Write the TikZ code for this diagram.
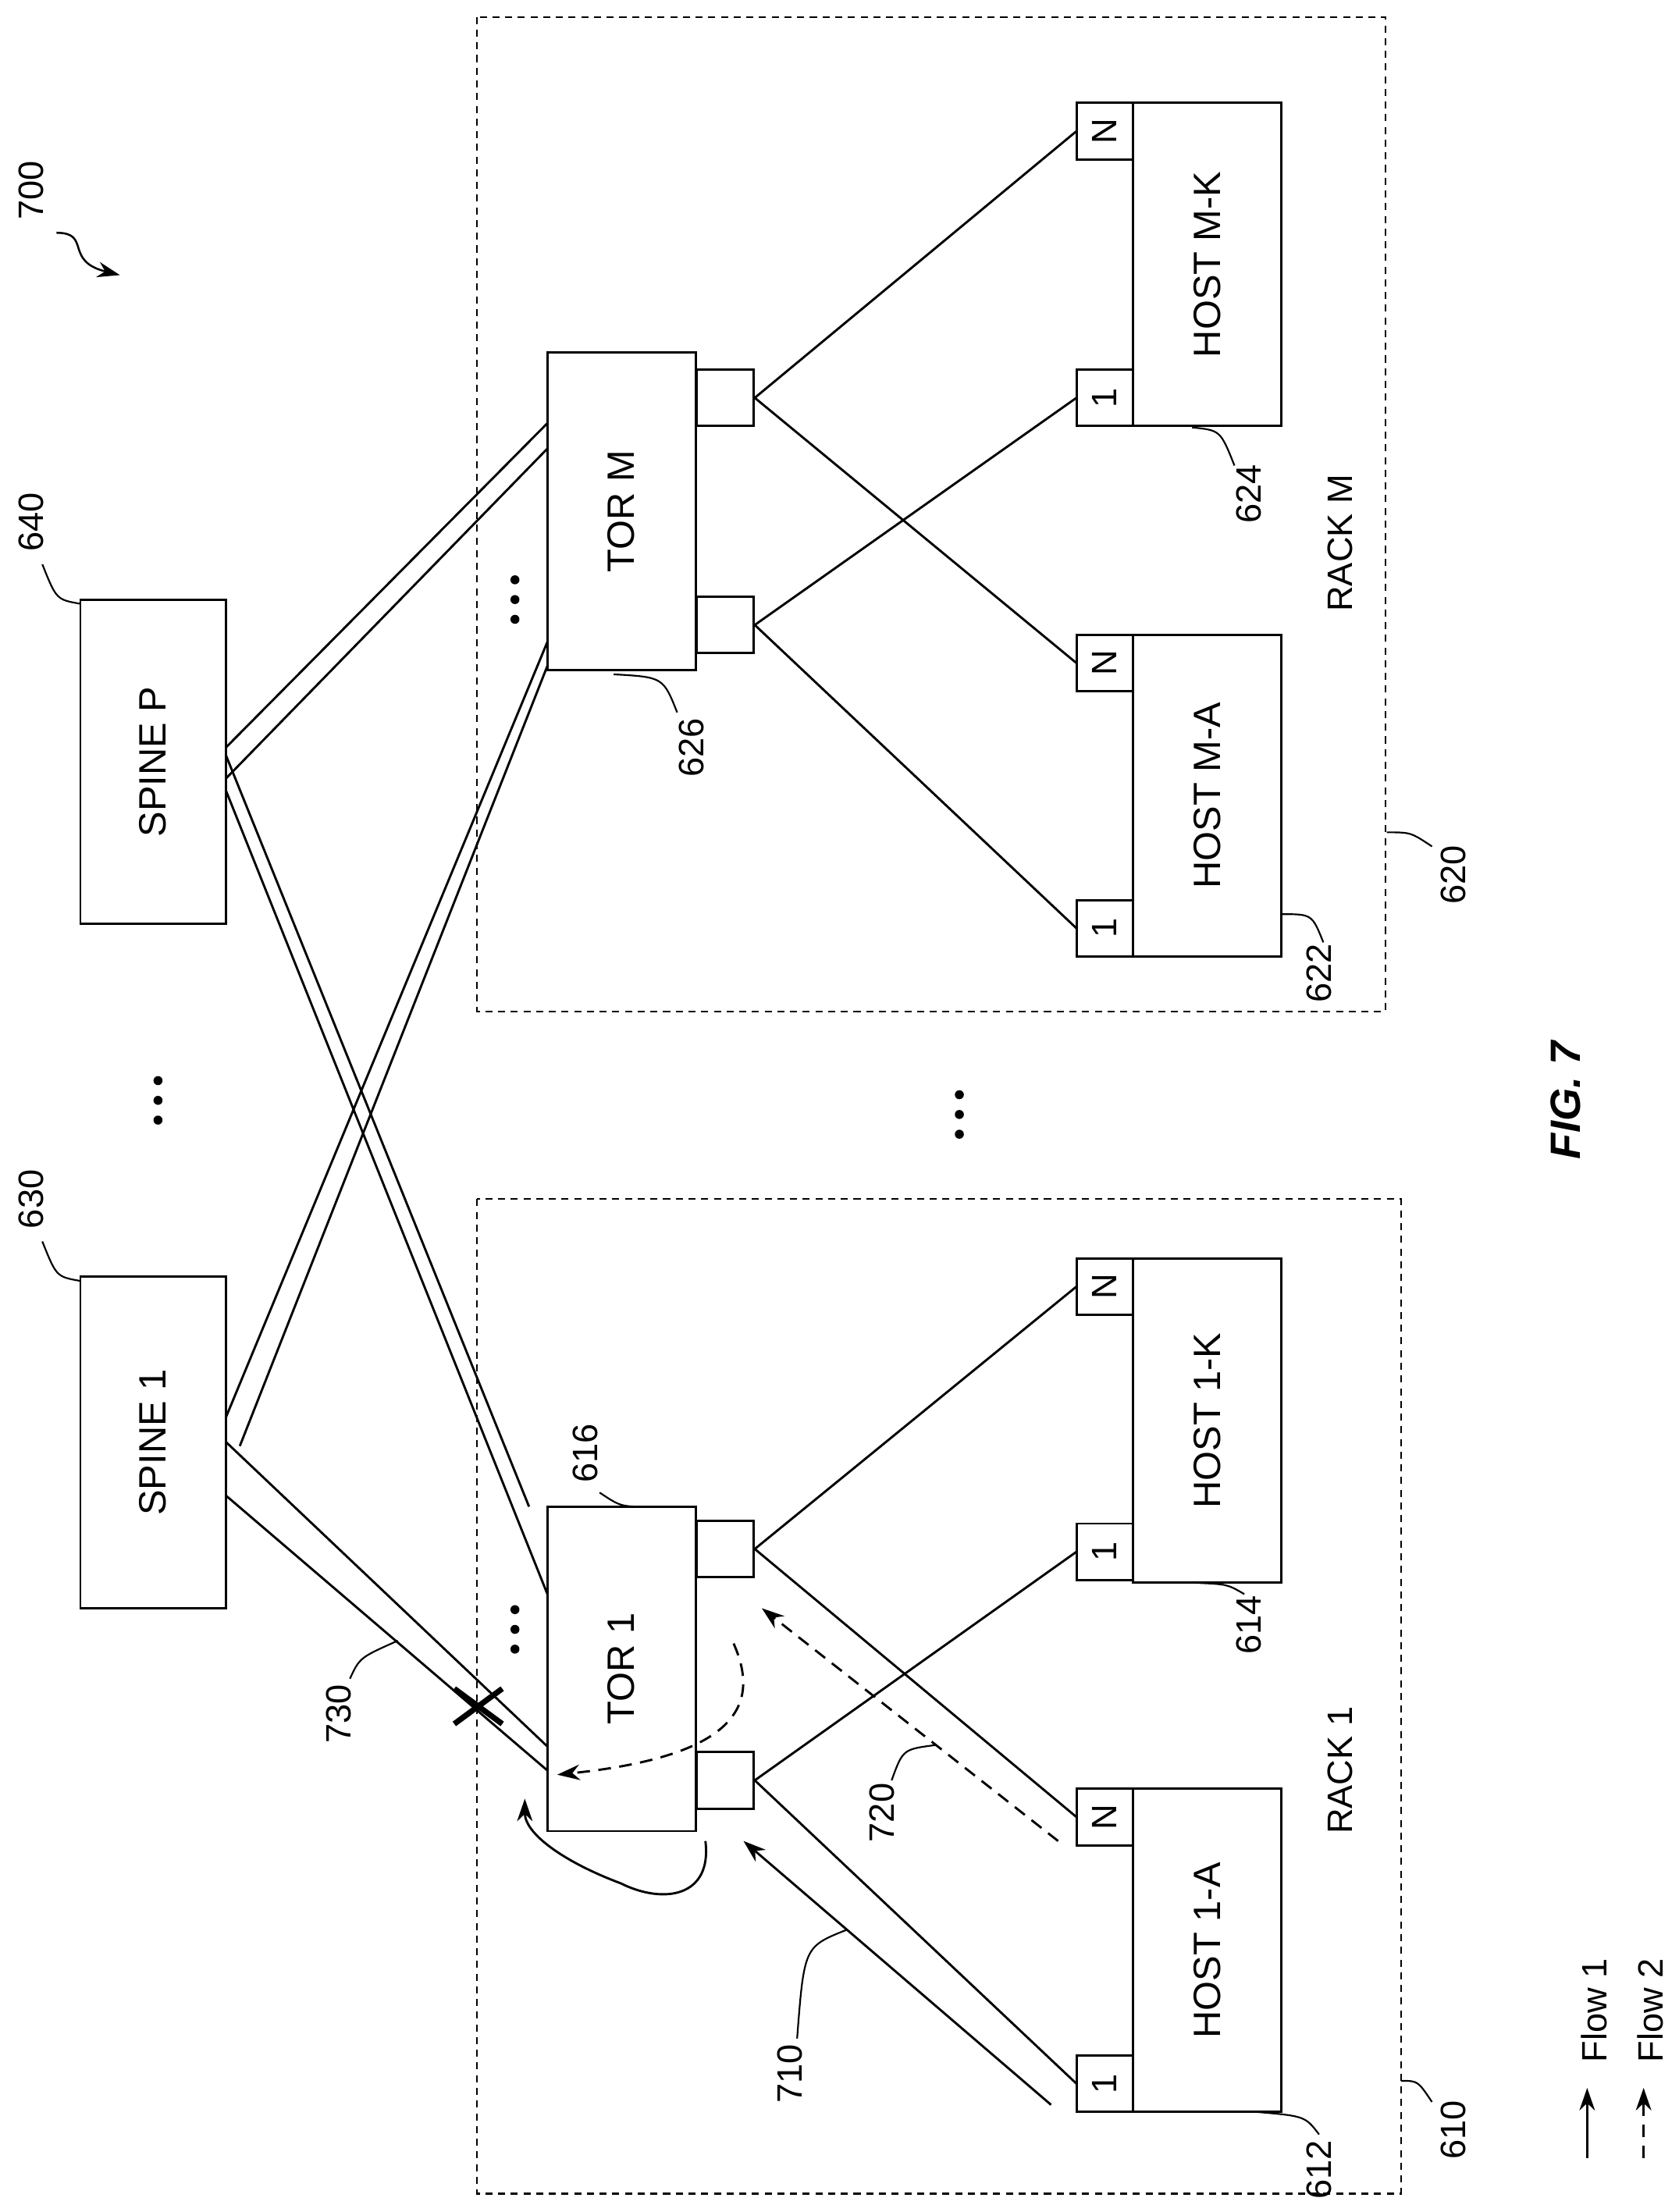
\documentclass[tikz,border=0pt]{standalone}
\usepackage{fontspec}
\setmainfont{Liberation Sans}
\usetikzlibrary{arrows.meta}
\begin{document}
\begin{tikzpicture}[x=1pt,y=-1pt,line width=1.6pt,
 lbl/.style={rotate=90,font=\fontsize{25}{28}\selectfont,inner sep=1pt},
 port/.style={draw,fill=white,minimum size=40pt,inner sep=0pt,font=\fontsize{25}{28}\selectfont},
 rack/.style={draw,dash pattern=on 5pt off 4pt,line width=1.2pt},
 dsh/.style={dash pattern=on 9pt off 6pt},
 arr/.style={-{Stealth[length=16pt,width=11pt]}},
 ldr/.style={line width=1.2pt}]
\useasboundingbox (0,0) rectangle (1190,1568);
% racks
\draw[rack] (338,850) rectangle (993,1555);
\draw[rack] (338,12) rectangle (982,717);
% spine links (under boxes)
\draw (160,1022)--(388,1238) (160,1060)--(388,1255);
\draw (160,1005)--(388,455) (170,1025)--(388,472);
\draw (160,530)--(388,300) (160,552)--(388,318);
\draw (160,535)--(375,1068) (160,560)--(388,1130);
% boxes
\newcommand{\rbox}[6]{\draw[fill=white] (#2,#3) rectangle (#4,#5); \node[lbl,font=\fontsize{27}{30}\selectfont] (#1) at ({(#2+#4)/2},{(#3+#5)/2}) {#6};}
\rbox{sp1}{57}{905}{160}{1140}{SPINE 1}
\rbox{spP}{57}{425}{160}{655}{SPINE P}
\rbox{tor1}{388}{1068}{493}{1298}{TOR 1}
\rbox{torM}{388}{250}{493}{475}{TOR M}
\rbox{h1a}{803}{1268}{908}{1497}{HOST 1-A}
\rbox{h1k}{803}{892}{908}{1122}{HOST 1-K}
\rbox{hma}{803}{450}{908}{678}{HOST M-A}
\rbox{hmk}{803}{73}{908}{302}{HOST M-K}
% links
\draw (535,1098)--(763,912) (535,1098)--(763,1288);
\draw (535,1262)--(763,1100) (535,1262)--(763,1477);
\draw (535,282)--(763,93) (535,282)--(763,470);
\draw (535,443)--(763,282) (535,443)--(763,658);
% ports
\node[port] (t1a) at (514,1098) {};
\node[port] (t1b) at (514,1262) {};
\node[port] (tma) at (514,282) {};
\node[port] (tmb) at (514,443) {};
\node[port,rotate=90] (p1) at (783,1477) {1};
\node[port,rotate=90] (p2) at (783,1288) {N};
\node[port,rotate=90] (p3) at (783,1100) {1};
\node[port,rotate=90] (p4) at (783,912) {N};
\node[port,rotate=90] (p5) at (783,658) {1};
\node[port,rotate=90] (p6) at (783,470) {N};
\node[port,rotate=90] (p7) at (783,282) {1};
\node[port,rotate=90] (p8) at (783,93) {N};
% flows
\draw[arr] (745,1492)--(527,1305);
\draw[arr] (500,1305) .. controls (505,1345) and (470,1350) .. (440,1335) .. controls (400,1320) and (372,1300) .. (372,1275);
\draw[arr,dsh] (750,1305)--(540,1140);
\draw[arr,dsh] (520,1165) .. controls (540,1210) and (520,1245) .. (395,1258);
% X
\draw[line width=4pt] (322,1197)--(356,1222) (356,1197)--(322,1222);
% dots
\foreach \x/\y in {112/780,680/790,365/1155,365/425}
 \foreach \d in {-14,0,14} \fill (\x,\y+\d) circle (3.2);
% labels and leaders
\node[lbl] at (22,370) {640}; \draw[ldr] (30,400) .. controls (40,425) .. (57,428);
\node[lbl] at (22,850) {630}; \draw[ldr] (30,880) .. controls (40,905) .. (57,908);
\node[lbl] at (415,1030) {616}; \draw[ldr] (425,1058) .. controls (440,1068) .. (460,1068);
\node[lbl] at (490,530) {626}; \draw[ldr] (480,505) .. controls (470,480) .. (435,478);
\node[lbl] at (885,350) {624}; \draw[ldr] (875,330) .. controls (865,305) .. (845,303);
\node[lbl] at (935,690) {622}; \draw[ldr] (938,668) .. controls (930,648) .. (908,648);
\node[lbl] at (1030,620) {620}; \draw[ldr] (1015,600) .. controls (1000,590) .. (983,590);
\node[lbl] at (1030,1510) {610}; \draw[ldr] (1015,1490) .. controls (1005,1475) .. (993,1475);
\node[lbl] at (935,1538) {612}; \draw[ldr] (935,1513) .. controls (925,1500) .. (890,1497);
\node[lbl] at (885,1152) {614}; \draw[ldr] (882,1130) .. controls (870,1123) .. (848,1122);
\node[lbl] at (560,1470) {710}; \draw[ldr] (565,1445) .. controls (570,1380) .. (600,1368);
\node[lbl] at (625,1285) {720}; \draw[ldr] (632,1262) .. controls (640,1240) .. (663,1237);
\node[lbl] at (240,1215) {730}; \draw[ldr] (248,1190) .. controls (255,1175) .. (282,1163);
\node[lbl] at (22,135) {700};
\draw[arr,line width=1.4pt] (40,165) .. controls (65,165) and (45,185) .. (85,195);
\node[lbl] at (950,1255) {RACK 1};
\node[lbl] at (950,385) {RACK M};
\node[lbl,font=\fontsize{30}{32}\selectfont\bfseries\itshape] at (1110,780) {FIG. 7};
% legend
\draw[arr] (1125,1530)--(1125,1480);
\draw[arr,dsh] (1165,1530)--(1165,1480);
\node[lbl] at (1130,1425) {Flow 1};
\node[lbl] at (1170,1425) {Flow 2};
\end{tikzpicture}
\end{document}
